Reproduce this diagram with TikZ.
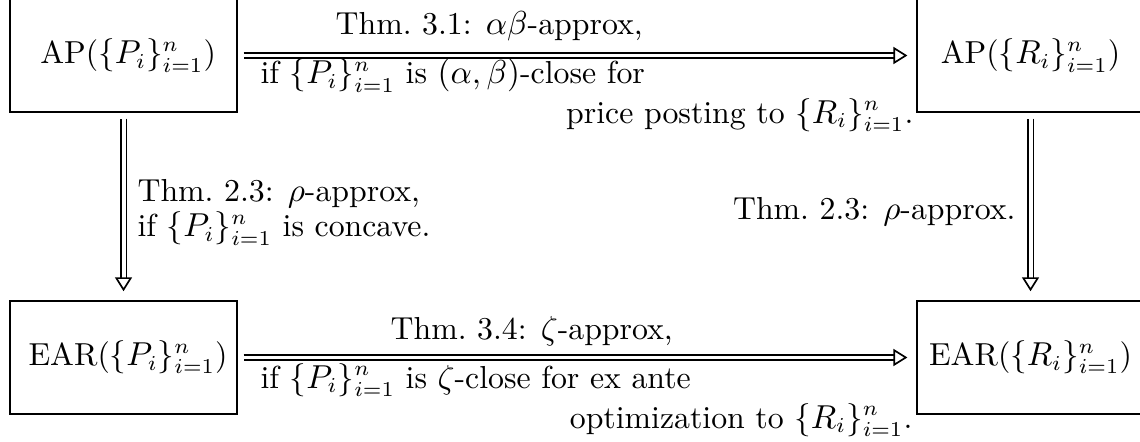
\documentclass[tikz,border=0pt]{standalone}
\usetikzlibrary{arrows.meta}

\tikzset{
  statebox/.style={draw,line width=0.45pt,minimum width=2.63cm,minimum height=1.31cm,inner sep=0pt},
  implies/.style={double,double distance=1.3pt,line width=0.55pt,
    -{Triangle[open,length=4.6pt,width=5.6pt,line width=0.55pt]},
    shorten <=2pt,shorten >=3pt},
  lbl/.style={inner sep=0pt},
}

\begin{document}
\begin{tikzpicture}[font=\fontsize{10.5pt}{12.6pt}\selectfont]
  \useasboundingbox (0,0) rectangle (13.224,5.127);

  % The four mechanisms
  \node[statebox] (apP)  at (1.433,4.483)  {\hspace{3pt}AP($\{P_i\}_{i=1}^n$)};
  \node[statebox] (apR)  at (11.954,4.483) {AP($\{R_i\}_{i=1}^n$)};
  \node[statebox] (earP) at (1.433,0.980)  {\hspace{3pt}EAR($\{P_i\}_{i=1}^n$)};
  \node[statebox] (earR) at (11.954,0.980) {EAR($\{R_i\}_{i=1}^n$)};

  % Implications
  \draw[implies] (apP) -- (apR);
  \draw[implies] (earP) -- (earR);
  \draw[implies] (apP) -- (earP);
  \draw[implies] (apR) -- (earR);

  % Top labels
  \node[lbl,anchor=base west] (t1) at (3.886,4.721) {Thm.\ 3.1: $\alpha\beta$-approx,};
  \node[lbl,anchor=base west] (t2) at (3.016,4.153) {if $\{P_i\}_{i=1}^n$ is $(\alpha,\beta)$-close for};
  \node[lbl,anchor=base east] (t3) at (10.602,3.700) {price posting to $\{R_i\}_{i=1}^n$.};

  % Side labels
  \node[lbl,anchor=base west] (l1) at (1.589,2.784) {Thm.\ 2.3: $\rho$-approx,};
  \node[lbl,anchor=base west] (l2) at (1.589,2.378) {if $\{P_i\}_{i=1}^n$ is concave.};
  \node[lbl,anchor=base east] (r1) at (11.786,2.575) {Thm.\ 2.3: $\rho$-approx.};

  % Bottom labels
  \node[lbl,anchor=base west] (b1) at (4.524,1.183) {Thm.\ 3.4: $\zeta$-approx,};
  \node[lbl,anchor=base west] (b2) at (3.016,0.626) {if $\{P_i\}_{i=1}^n$ is $\zeta$-close for ex ante};
  \node[lbl,anchor=base east] (b3) at (10.591,0.162) {optimization to $\{R_i\}_{i=1}^n$.};
\end{tikzpicture}
\end{document}
